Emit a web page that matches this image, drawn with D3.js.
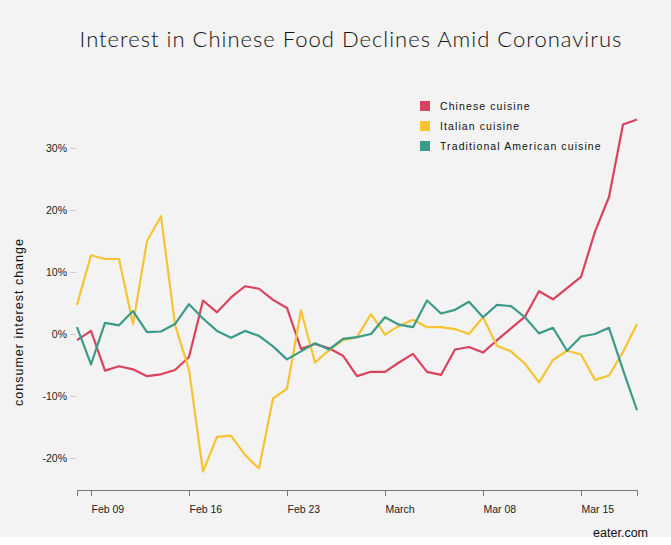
<!DOCTYPE html>
<html><head><meta charset="utf-8">
<script src="https://cdn.jsdelivr.net/npm/d3@7"></script>
<style>
body{margin:0;background:#fff;font-family:"Liberation Sans",Arial,sans-serif;}
</style></head><body><div id="chart"></div>
<script>
const startDate = "2020-02-08";
const chinese = [-1.0,0.5,-5.9,-5.2,-5.7,-6.8,-6.5,-5.8,-3.7,5.4,3.5,5.9,7.7,7.3,5.5,4.2,-2.4,-1.6,-2.3,-3.5,-6.8,-6.1,-6.1,-4.6,-3.2,-6.1,-6.6,-2.5,-2.1,-3.0,-1.0,0.9,2.8,6.9,5.6,7.4,9.2,16.5,22.1,33.8,34.6];
const italian = [4.7,12.7,12.1,12.1,1.6,15.0,19.0,1.5,-5.8,-22.2,-16.6,-16.4,-19.5,-21.7,-10.4,-8.8,3.8,-4.6,-2.6,-1.0,-0.5,3.2,-0.1,1.3,2.3,1.1,1.1,0.8,0.0,2.7,-1.9,-2.8,-4.8,-7.8,-4.2,-2.7,-3.3,-7.4,-6.7,-2.9,1.6];
const american = [1.1,-4.9,1.8,1.4,3.7,0.3,0.4,1.6,4.8,2.5,0.5,-0.6,0.5,-0.3,-2.0,-4.1,-2.8,-1.5,-2.5,-0.8,-0.5,0.0,2.7,1.5,1.1,5.4,3.3,3.9,5.2,2.7,4.7,4.5,2.7,0.1,1.0,-2.7,-0.4,0.0,1.0,-5.8,-12.3];
const seriesNames = ["Chinese cuisine","Italian cuisine","Traditional American cuisine"];
const colors = ["#d9435f","#f6c332","#3c9b88"];
const yTicks = [-20,-10,0,10,20,30];
const xTickDates = ["2020-02-09","2020-02-16","2020-02-23","2020-03-01","2020-03-08","2020-03-15"];

const W = 671, H = 545;
const svg = d3.select("#chart").append("svg").attr("width", W).attr("height", H);
svg.append("rect").attr("width", W).attr("height", 537).attr("fill", "#f3f3f3");

const parse = d3.utcParse("%Y-%m-%d");
const t0 = parse(startDate);
const dates = chinese.map((d, i) => d3.utcDay.offset(t0, i));
const x = d3.scaleUtc().domain([dates[0], dates[dates.length - 1]]).range([77, 637]);
const y = d3.scaleLinear().domain([0, 30]).range([334, 148]);

svg.append("text").attr("x", 351).attr("y", 47).attr("text-anchor", "middle")
  .attr("font-family", "Lato, sans-serif").attr("font-weight", 300).attr("font-size", 22).attr("letter-spacing", 1)
  .attr("fill", "#111").text("Interest in Chinese Food Declines Amid Coronavirus");

// y axis
const ya = svg.append("g").attr("transform", "translate(76,0)")
  .call(d3.axisLeft(y).tickValues(yTicks).tickSize(6).tickPadding(3).tickFormat(d => d + "%"));
ya.select(".domain").remove();
ya.selectAll("line").attr("stroke", "#ccc");
ya.selectAll("text").attr("font-size", 10.5).attr("fill", "#222").attr("font-family", "Liberation Sans, Arial");

svg.append("text").attr("transform", "translate(23,322) rotate(-90)").attr("text-anchor", "middle")
  .attr("font-size", 12.5).attr("letter-spacing", 1).attr("fill", "#111").text("consumer interest change");

// x axis
const xa = svg.append("g").attr("transform", "translate(0,490)")
  .call(d3.axisBottom(x).tickValues(xTickDates.map(parse)).tickSize(6).tickSizeOuter(6)
    .tickFormat(d => d.getUTCDate() === 1 ? "March" : d3.utcFormat("%b %d")(d)));
xa.selectAll("path,line").attr("stroke", "#777");
xa.selectAll("text").attr("text-anchor", "start").attr("dx", 0).attr("dy", 14)
  .attr("font-size", 10.5).attr("fill", "#222").attr("font-family", "Liberation Sans, Arial");

const line = d3.line().x((d, i) => x(dates[i])).y(d => y(d));
[chinese, italian, american].forEach((s, k) => {
  svg.append("path").datum(s).attr("d", line).attr("fill", "none")
    .attr("stroke", colors[k]).attr("stroke-width", 2.2).attr("stroke-linejoin", "round");
});

// legend
const lg = svg.append("g").attr("transform", "translate(420,106)");
seriesNames.forEach((n, k) => {
  lg.append("rect").attr("x", 0).attr("y", k * 20 - 5).attr("width", 10).attr("height", 10).attr("fill", colors[k]);
  lg.append("text").attr("x", 20).attr("y", k * 20 + 4).attr("font-size", 10.5).attr("letter-spacing", 1.1)
    .attr("fill", "#111").text(n);
});

svg.append("text").attr("x", 648).attr("y", 537).attr("text-anchor", "end")
  .attr("font-size", 12.5).attr("fill", "#111").text("eater.com");
</script></body></html>
